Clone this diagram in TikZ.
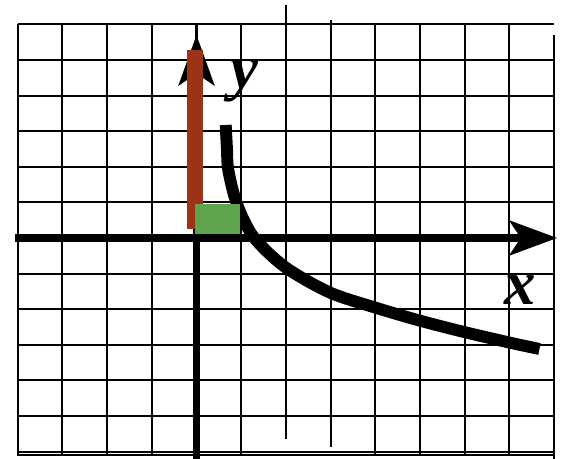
\documentclass[tikz,border=0pt]{standalone}
\usepackage{fontspec}
\setmainfont{Liberation Serif}
\usetikzlibrary{arrows.meta}
\definecolor{barred}{RGB}{156,50,22}
\definecolor{boxgreen}{RGB}{94,163,78}

\begin{document}
\begin{tikzpicture}[
    x=1cm,
    y=0.7964cm,
    gridline/.style={line width=1.3pt},
    axis/.style={line width=4.5pt},
    every node/.style={inner sep=0pt,anchor=base,font=\fontsize{40}{40}\selectfont\bfseries\itshape}
]
    \useasboundingbox (-4.396,-6.208) rectangle (8.154,6.685);
    \foreach \i in {-4,-3,-2,-1,0,1,4,5,6,7}
        \draw[gridline] (\i,6) -- (\i,-6.12);
    \draw[gridline] (2,6.545) -- (2,-5.646);
    \draw[gridline] (3,6.124) -- (3,-5.871);
    \draw[gridline] (8,5.702) -- (8,-6.208);
    \foreach \j in {-6,...,6}
        \draw[gridline] (-4,\j) -- (8,\j);
    \draw[gridline] (-4,-6.1) -- (8,-6.1);
    \coordinate (xl) at (-4.06,0);
    \coordinate (xr) at (8.065,0);
    \coordinate (yb) at (0,-6.208);
    \coordinate (yt) at (0,5.70);
    \draw[axis,-{Stealth[length=1.08cm,width=0.8cm,inset=0.27cm,line width=0pt]}] (xl) -- (xr);
    \draw[axis,-{Stealth[length=1.14cm,width=0.82cm,inset=0.28cm,line width=0pt]}] (yb) -- (yt);
    \draw[line width=7.6pt] plot[smooth] coordinates {(0.653,3.174) (0.682,2.5) (0.711,1.910) (0.899,0.975) (1.271,0.037) (1.980,-0.815) (2.971,-1.525) (3.978,-1.947) (5.0,-2.323) (5.984,-2.640) (7.013,-2.941) (7.673,-3.118)};
    \fill[barred] (-0.206,0.239) rectangle (0.139,5.281);
    \fill[boxgreen] (-0.034,0.112) rectangle (0.973,0.955);
    \node (ylab) at (1.063,4.185) {y};
    \node (xlab) at (7.234,-1.882) {x};
\end{tikzpicture}
\end{document}
